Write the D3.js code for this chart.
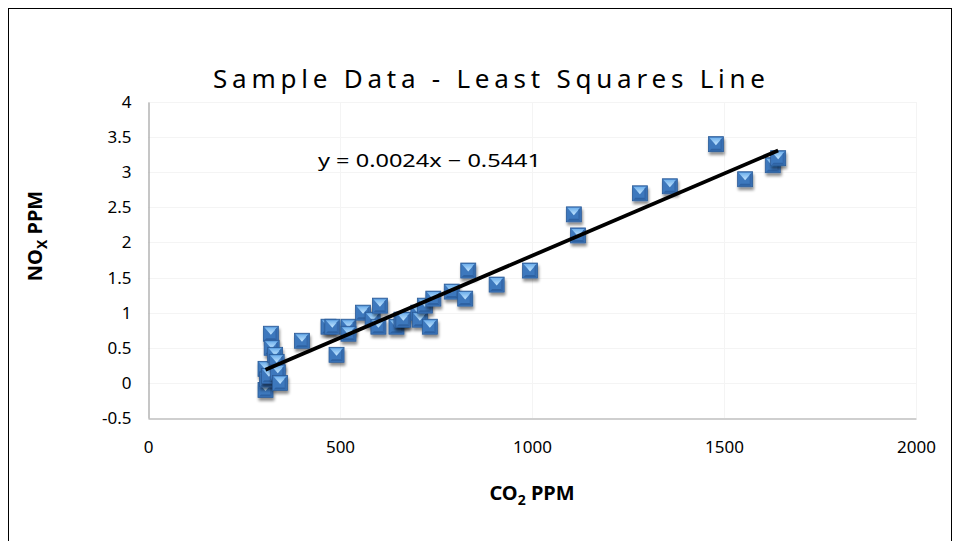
<!DOCTYPE html>
<html><head><meta charset="utf-8">
<script src="https://cdn.jsdelivr.net/npm/d3@7"></script>
<style>body{margin:0;background:#fff}svg{display:block}text{font-family:"Noto Sans","Open Sans",sans-serif}</style>
</head><body><svg id="c" width="959" height="541"></svg>
<script>
const co2 = [306,306,310,315,320,322,331,335,338,344,401,470,480,491,522,522,560,585,600,604,647,660,665,704,708,721,734,743,791,826,834,908,995,1109,1120,1281,1359,1479,1555,1627,1641];
const nox = [-0.1,0.2,0.05,0.1,0.7,0.5,0.4,0.3,0.15,0,0.6,0.8,0.8,0.4,0.8,0.7,1.0,0.9,0.8,1.1,0.8,0.9,0.9,1.0,0.9,1.1,0.8,1.2,1.3,1.2,1.6,1.4,1.6,2.4,2.1,2.7,2.8,3.4,2.9,3.1,3.2];
const xTicks = [0,500,1000,1500,2000];
const yTicks = [-0.5,0,0.5,1,1.5,2,2.5,3,3.5,4];
const title = "Sample Data - Least Squares Line";
const equation = "y = 0.0024x \u2212 0.5441";

const svg = d3.select("#c");
const x = d3.scaleLinear().domain([0,2000]).range([148,916]);
const y = d3.scaleLinear().domain([-0.5,4]).range([418,102]);

// border
svg.append("rect").attr("x",8.5).attr("y",8.5).attr("width",943).attr("height",540)
  .attr("fill","none").attr("stroke","#000").attr("stroke-width",1);

// defs
const defs = svg.append("defs");
const f = defs.append("filter").attr("id","sh").attr("x","-50%").attr("y","-50%").attr("width","200%").attr("height","200%");
f.append("feGaussianBlur").attr("in","SourceAlpha").attr("stdDeviation",1.6).attr("result","b");
f.append("feOffset").attr("in","b").attr("dx",1).attr("dy",2.5).attr("result","o");
f.append("feComponentTransfer").attr("in","o").attr("result","o2").append("feFuncA").attr("type","linear").attr("slope",0.45);
const m = f.append("feMerge"); m.append("feMergeNode").attr("in","o2"); m.append("feMergeNode").attr("in","SourceGraphic");
const lg = defs.append("linearGradient").attr("id","top").attr("x1",0).attr("y1",0).attr("x2",0).attr("y2",1);
lg.append("stop").attr("offset","0").attr("stop-color","#6fb0ec");
lg.append("stop").attr("offset","1").attr("stop-color","#c4e6ff");

// gridlines
svg.append("g").selectAll("line").data(yTicks.filter(d=>d>-0.5)).join("line")
  .attr("x1",x(0)).attr("x2",x(2000)).attr("y1",d=>Math.round(y(d))+0.5).attr("y2",d=>Math.round(y(d))+0.5)
  .attr("stroke","#f4f4f4");
svg.append("g").selectAll("line").data(xTicks.filter(d=>d>0)).join("line")
  .attr("y1",y(-0.5)).attr("y2",y(4)).attr("x1",d=>Math.round(x(d))+0.5).attr("x2",d=>Math.round(x(d))+0.5)
  .attr("stroke","#f4f4f4");

// axes
const xAxis = svg.append("g").attr("transform",`translate(0,${Math.round(y(-0.5))+0.5})`)
  .call(d3.axisBottom(x).tickValues(xTicks).tickSize(0).tickPadding(22).tickFormat(d3.format("d")));
const yAxis = svg.append("g").attr("transform",`translate(${Math.round(x(0))+0.5},0)`)
  .call(d3.axisLeft(y).tickValues(yTicks).tickSize(0).tickPadding(17).tickFormat(d=>String(d)));
[xAxis,yAxis].forEach(a=>{
  a.select(".domain").attr("stroke","#a0a0a0").attr("stroke-width",1.2);
  a.selectAll("text").attr("font-size",17).attr("fill","#000").attr("font-family","'Noto Sans',sans-serif");
});

// markers
const s = 7.5;
const pts = co2.map((c,i)=>({c, n:nox[i]}));
const mk = svg.append("g").selectAll("g").data(pts).join("g")
  .attr("transform",d=>`translate(${x(d.c)},${y(d.n)})`).attr("filter","url(#sh)");
mk.append("rect").attr("x",-s).attr("y",-s).attr("width",2*s).attr("height",2*s).attr("fill","#3d78bd").attr("stroke","#2c5c98").attr("stroke-width",0.8);
mk.append("path").attr("d",`M${-s+1},${-s+1}L${s-1},${-s+1}L0,1Z`).attr("fill","url(#top)");
mk.append("path").attr("d",`M${-s+1},${s-1}L${s-1},${s-1}L${s-3},${s-3}L${-s+3},${s-3}Z`).attr("fill","#2f62a3");
mk.append("path").attr("d",`M${s-1},${-s+1}L${s-1},${s-1}L${s-3},${s-3}L${s-3},${-s+3}Z`).attr("fill","#3469ab");

// least squares line
const mx = d3.mean(co2), my = d3.mean(nox);
let sxy=0,sxx=0; co2.forEach((c,i)=>{sxy+=(c-mx)*(nox[i]-my); sxx+=(c-mx)*(c-mx);});
const slope = sxy/sxx, icpt = my - slope*mx;
const x0 = d3.min(co2), x1 = d3.max(co2);
svg.append("line").attr("x1",x(x0)).attr("y1",y(slope*x0+icpt)).attr("x2",x(x1)).attr("y2",y(slope*x1+icpt))
  .attr("stroke","#000").attr("stroke-width",3.8);

// texts
svg.append("text").attr("x",318).attr("y",167).attr("font-size",18).attr("textLength",223).attr("lengthAdjust","spacingAndGlyphs").text(equation);
svg.append("text").attr("x",213).attr("y",88).attr("font-size",26).attr("textLength",552).attr("lengthAdjust","spacing").text(title);
const xt = svg.append("text").attr("x",532).attr("y",500).attr("text-anchor","middle").attr("font-size",20).attr("font-weight","bold");
xt.append("tspan").text("CO");
xt.append("tspan").attr("font-size",14).attr("dy",5).text("2");
xt.append("tspan").attr("dy",-5).text(" PPM");
const yt = svg.append("text").attr("transform","translate(42,236) rotate(-90)").attr("text-anchor","middle").attr("font-size",20).attr("font-weight","bold");
yt.append("tspan").text("NO");
yt.append("tspan").attr("font-size",14).attr("dy",5).text("X");
yt.append("tspan").attr("dy",-5).text(" PPM");
</script></body></html>
